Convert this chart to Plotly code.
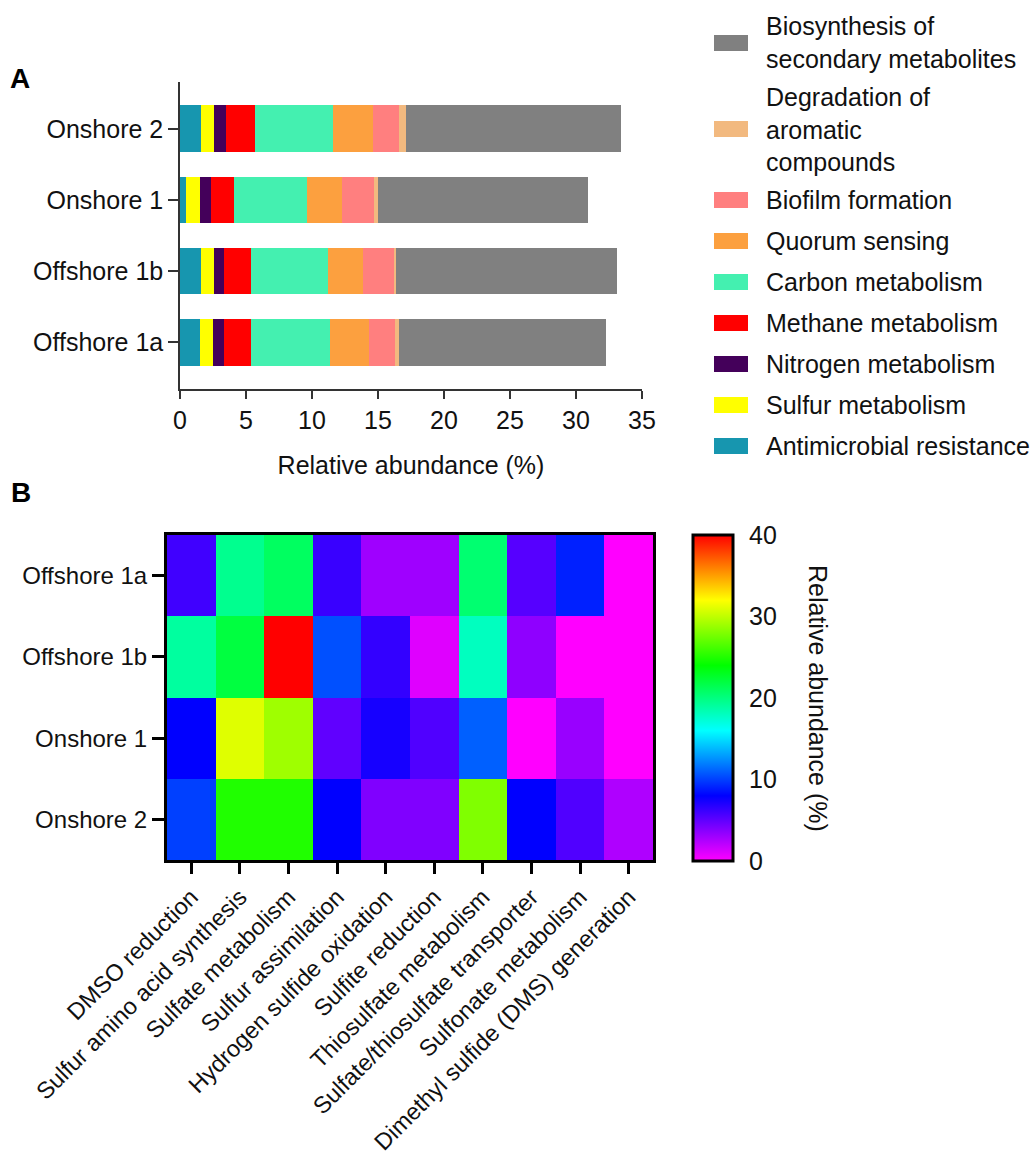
import plotly.graph_objects as go

# ---------------- data ----------------
samples_a = ["Offshore 1a", "Offshore 1b", "Onshore 1", "Onshore 2"]

pathways = [
    "Antimicrobial resistance",
    "Sulfur metabolism",
    "Nitrogen metabolism",
    "Methane metabolism",
    "Carbon metabolism",
    "Quorum sensing",
    "Biofilm formation",
    "Degradation of aromatic compounds",
    "Biosynthesis of secondary metabolites",
]
legend_labels = [
    "Antimicrobial resistance",
    "Sulfur metabolism",
    "Nitrogen metabolism",
    "Methane metabolism",
    "Carbon metabolism",
    "Quorum sensing",
    "Biofilm formation",
    "Degradation of<br>aromatic<br>compounds",
    "Biosynthesis of<br>secondary metabolites",
]
pathway_colors = [
    "#1796AF", "#FFFF00", "#44005A", "#FF0000", "#44F0B0",
    "#FCA03F", "#FF7F7F", "#F2B97F", "#808080",
]

# relative abundance (%) per sample, ordered as samples_a
amr = [1.49, 1.62, 0.48, 1.62]
sulfur = [1.01, 0.96, 1.04, 0.96]
nitrogen = [0.81, 0.73, 0.81, 0.94]
methane = [2.07, 2.07, 1.77, 2.19]
carbon = [5.97, 5.84, 5.53, 5.89]
quorum = [2.98, 2.65, 2.63, 3.03]
biofilm = [1.97, 2.35, 2.43, 1.97]
aromatic = [0.30, 0.18, 0.32, 0.50]
secondary = [15.70, 16.71, 15.90, 16.29]
series_a = [amr, sulfur, nitrogen, methane, carbon, quorum, biofilm, aromatic, secondary]

samples_b = ["Offshore 1a", "Offshore 1b", "Onshore 1", "Onshore 2"]
sulfur_functions = [
    "DMSO reduction",
    "Sulfur amino acid synthesis",
    "Sulfate metabolism",
    "Sulfur assimilation",
    "Hydrogen sulfide oxidation",
    "Sulfite reduction",
    "Thiosulfate metabolism",
    "Sulfate/thiosulfate transporter",
    "Sulfonate metabolism",
    "Dimethyl sulfide (DMS) generation",
]
offshore_1a = [6.0, 19.5, 21.0, 6.2, 3.0, 3.0, 20.5, 5.3, 9.0, 0.0]
offshore_1b = [19.0, 22.0, 40.0, 10.5, 6.4, 1.0, 18.0, 3.5, 0.0, 0.0]
onshore_1 = [8.0, 31.0, 29.0, 5.0, 7.3, 5.5, 11.0, 0.0, 3.2, 0.0]
onshore_2 = [10.0, 25.0, 25.0, 8.0, 4.0, 4.0, 28.0, 8.0, 5.5, 2.5]
heat_values = [offshore_1a, offshore_1b, onshore_1, onshore_2]

colorbar_ticks = [0, 10, 20, 30, 40]
bar_ticks = [0, 5, 10, 15, 20, 25, 30, 35]

# ---------------- layout helpers ----------------
W, H = 1036, 1156
FONT = "Arial, Liberation Sans, sans-serif"
TXT = "#111111"


def px(x):
    return x / W


def py(y):
    return 1 - y / H


fig = go.Figure()

# Panel A: stacked horizontal bars
for name, vals, col in zip(pathways, series_a, pathway_colors):
    fig.add_trace(go.Bar(
        y=samples_a, x=vals, name=name, orientation="h",
        marker=dict(color=col, line=dict(width=0)),
        width=0.66, showlegend=False,
        xaxis="x", yaxis="y",
    ))

# Panel B: heatmap
CB_TOP, CB_BOT = 535, 861
ZMAX = 40
fig.add_trace(go.Heatmap(
    z=heat_values, x=sulfur_functions, y=samples_b,
    zmin=0, zmax=ZMAX,
    colorscale=[[0.0, "#FF00FF"], [0.2, "#0000FF"], [0.4, "#00FFFF"],
                [0.6, "#00FF00"], [0.8, "#FFFF00"], [1.0, "#FF0000"]],
    xaxis="x2", yaxis="y2",
    colorbar=dict(
        x=px(693), xanchor="left", y=py((CB_TOP + CB_BOT) / 2), yanchor="middle",
        lenmode="pixels", len=CB_BOT - CB_TOP, thickness=40,
        outlinewidth=3, outlinecolor="black",
        tickvals=colorbar_ticks, ticks="outside", ticklen=10, tickwidth=1,
        tickcolor="white", tickfont=dict(size=25, color=TXT, family=FONT),
        xpad=0, ypad=0,
    ),
))

axis_font = dict(size=25, color=TXT, family=FONT)

fig.update_layout(
    width=W, height=H,
    margin=dict(l=0, r=0, t=0, b=0),
    paper_bgcolor="white", plot_bgcolor="white",
    barmode="stack",
    font=dict(family=FONT, color=TXT),
    xaxis=dict(
        domain=[px(180), px(642)], anchor="y",
        range=[0, 35], tickvals=bar_ticks,
        showgrid=False, zeroline=False,
        showline=True, linecolor="#333333", linewidth=1.5,
        ticks="outside", ticklen=8, tickwidth=1.5, tickcolor="#333333",
        tickfont=axis_font,
        title=dict(text="Relative abundance (%)", font=axis_font, standoff=24),
        automargin=False,
    ),
    yaxis=dict(
        domain=[py(389), py(82)], anchor="x",
        range=[-0.66, 3.66],
        showgrid=False, zeroline=False,
        showline=True, linecolor="#333333", linewidth=1.5,
        ticks="outside", ticklen=10, tickwidth=1.5, tickcolor="#333333",
        tickfont=axis_font, automargin=False,
    ),
    xaxis2=dict(
        domain=[px(167), px(653)], anchor="y2",
        showgrid=False, zeroline=False,
        showline=True, mirror=True, linecolor="black", linewidth=3,
        ticks="outside", ticklen=11, tickwidth=3, tickcolor="black",
        tickangle=-45, tickfont=dict(size=23.5, color=TXT, family=FONT),
        automargin=False,
    ),
    yaxis2=dict(
        domain=[py(860), py(535)], anchor="x2",
        autorange="reversed",
        showgrid=False, zeroline=False,
        showline=True, mirror=True, linecolor="black", linewidth=3,
        ticks="outside", ticklen=12, tickwidth=3, tickcolor="black",
        tickfont=dict(size=24, color=TXT, family=FONT), automargin=False,
    ),
)

shapes = []
annotations = []

# Short tick marks on both inner edges of the colour bar
for v in colorbar_ticks[1:-1]:
    yy = CB_BOT - (CB_BOT - CB_TOP) * v / ZMAX
    for x0, x1 in ((693, 700), (726, 733)):
        shapes.append(dict(type="line", xref="paper", yref="paper",
                           x0=px(x0), x1=px(x1), y0=py(yy), y1=py(yy),
                           line=dict(color="black", width=3)))

# Legend for panel A, listed from the top of the stack down
center = 43
prev_h = None
for label, col in zip(reversed(legend_labels), reversed(pathway_colors)):
    nlines = label.count("<br>") + 1
    h = 41 + (nlines - 1) * 30
    if prev_h is not None:
        center += (prev_h + h) / 2
    prev_h = h
    shapes.append(dict(
        type="rect", xref="paper", yref="paper",
        x0=px(714), x1=px(748), y0=py(center + 8), y1=py(center - 8),
        fillcolor=col, line=dict(width=0),
    ))
    annotations.append(dict(
        text=label, xref="paper", yref="paper",
        x=px(764), y=py(center), xanchor="left", yanchor="middle",
        align="left", showarrow=False,
        font=dict(size=25, color=TXT, family=FONT),
    ))

# Panel letters
annotations.append(dict(text="<b>A</b>", xref="paper", yref="paper",
                        x=px(8), y=py(79), xanchor="left", yanchor="middle",
                        showarrow=False, font=dict(size=28, color="black", family=FONT)))
annotations.append(dict(text="<b>B</b>", xref="paper", yref="paper",
                        x=px(9), y=py(492), xanchor="left", yanchor="middle",
                        showarrow=False, font=dict(size=28, color="black", family=FONT)))

# Colour bar title, reading top to bottom
annotations.append(dict(text="Relative abundance (%)", xref="paper", yref="paper",
                        x=px(818), y=py((CB_TOP + CB_BOT) / 2), xanchor="center", yanchor="middle",
                        textangle=90, showarrow=False,
                        font=dict(size=25, color=TXT, family=FONT)))

fig.update_layout(shapes=shapes, annotations=annotations)

fig.write_html("out.html")
